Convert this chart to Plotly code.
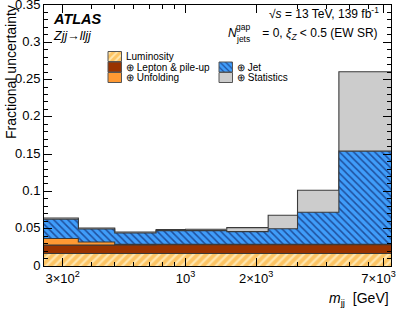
import plotly.graph_objects as go
import math

# ---------------- data ----------------
edges = [250, 350, 500, 750, 1000, 1500, 2250, 3000, 4500, 7500]
# cumulative (quadrature-summed) fractional uncertainties per bin
lumi     = [0.0167, 0.0167, 0.0167, 0.0167, 0.0167, 0.0167, 0.0167, 0.0167, 0.0167]
lepton   = [0.0280, 0.0280, 0.0283, 0.0285, 0.0285, 0.0285, 0.0285, 0.0285, 0.0285]
unfold   = [0.0368, 0.0322, 0.0290, 0.0290, 0.0290, 0.0290, 0.0290, 0.0290, 0.0290]
jet      = [0.0627, 0.0497, 0.0443, 0.0475, 0.0475, 0.0461, 0.0500, 0.0720, 0.1540]
total    = [0.0644, 0.0510, 0.0456, 0.0489, 0.0493, 0.0515, 0.0680, 0.1016, 0.2604]

xtick_vals = [300, 1000, 2000, 7000]
xtick_text = ["3×10<sup>2</sup>", "10<sup>3</sup>", "2×10<sup>3</sup>", "7×10<sup>3</sup>\u00a0\u00a0\u00a0"]
xminor_vals = [300, 400, 500, 600, 700, 800, 900, 2000, 3000, 4000, 5000, 6000, 7000]
ytick_vals = [0, 0.05, 0.1, 0.15, 0.2, 0.25, 0.3, 0.35]
ytick_text = ["0", "0.05", "0.1", "0.15", "0.2", "0.25", "0.3", "0.35"]

# ---------------- styles ----------------
FONT = "Liberation Sans, Arial, Helvetica, sans-serif"
EDGE = "#3a3a3a"
C_STAT = "#cccccc"
C_JET_BG, C_JET_FG = "#3f9dfa", "#1f4f9c"
C_UNF = "#ff9933"
C_LEP = "#993300"
C_LUM_BG, C_LUM_FG = "#fdc463", "#ffe6ad"

W, H = 399, 309
ML, MR, MT, MB = 44, 8, 5, 43
PW, PH = W - ML - MR, H - MT - MB


def px(x):
    return (x - ML) / PW


def py(y):
    return (H - MB - y) / PH


fig = go.Figure()


def step_trace(vals, fill, pattern=None, name=""):
    ys = list(vals) + [vals[-1]]
    kw = dict(x=edges, y=ys, mode="lines", line=dict(shape="hv", color=EDGE, width=1.1),
              fill="tozeroy", fillcolor=fill, name=name, showlegend=False, hoverinfo="skip")
    if pattern is not None:
        kw["fillpattern"] = pattern
    fig.add_trace(go.Scatter(**kw))


step_trace(total, C_STAT, name="Statistics")
step_trace(jet, C_JET_BG, dict(shape="\\", bgcolor=C_JET_BG, fgcolor=C_JET_FG, size=5, solidity=0.3, fillmode="replace"), name="Jet")
step_trace(unfold, C_UNF, name="Unfolding")
step_trace(lepton, C_LEP, name="Lepton & pile-up")
step_trace(lumi, C_LUM_BG, dict(shape="/", bgcolor=C_LUM_BG, fgcolor=C_LUM_FG, size=6, solidity=0.4, fillmode="replace"), name="Luminosity")

# ---------------- hand-made legend (compact rows like the original) ----------------
legend_items = [
    ("Luminosity", 108, 0, C_LUM_BG, dict(shape="/", bgcolor=C_LUM_BG, fgcolor=C_LUM_FG, size=5, solidity=0.4, fillmode="replace")),
    ("⊕ Lepton & pile-up", 108, 1, C_LEP, None),
    ("⊕ Unfolding", 108, 2, C_UNF, None),
    ("⊕ Jet", 219, 1, C_JET_BG, dict(shape="\\", bgcolor=C_JET_BG, fgcolor=C_JET_FG, size=4, solidity=0.3, fillmode="replace")),
    ("⊕ Statistics", 219, 2, C_STAT, None),
]
row_top = [51.5, 62.0, 72.5]
row_h = 10.0
box_w = 13.5
for label, bx, row, fill, pat in legend_items:
    y0 = row_top[row]
    y1 = y0 + row_h
    xs = [px(bx), px(bx + box_w), px(bx + box_w), px(bx), px(bx)]
    ys = [py(y1), py(y1), py(y0), py(y0), py(y1)]
    kw = dict(x=xs, y=ys, xaxis="x2", yaxis="y2", mode="lines", fill="toself",
              fillcolor=fill, line=dict(color="#555555", width=1), showlegend=False, hoverinfo="skip")
    if pat is not None:
        kw["fillpattern"] = pat
    fig.add_trace(go.Scatter(**kw))
    fig.add_annotation(text=label, xref="paper", yref="paper", x=px(bx + box_w + 2.5), y=py((y0 + y1) / 2),
                       xanchor="left", yanchor="middle", showarrow=False,
                       font=dict(family=FONT, size=10, color="black"))

# ---------------- text labels ----------------
def ann(text, x, y, xanchor="left", size=12, angle=0, yanchor="middle"):
    fig.add_annotation(text=text, xref="paper", yref="paper", x=px(x), y=py(y),
                       xanchor=xanchor, yanchor=yanchor, showarrow=False, textangle=angle,
                       font=dict(family=FONT, size=size, color="black"))

ann("<b><i>ATLAS</i></b>", 51, 19, size=14.5)
ann("<i>Zjj</i>→<i>lljj</i>", 51, 36, size=12.5)
ann("√<i>s</i> = 13 TeV, 139 fb<sup>-1</sup>", 381, 13, xanchor="right", size=12)
ann(" = 0, <i>ξ</i><sub><i>Z</i></sub> < 0.5 (EW SR)", 380, 34, xanchor="right", size=12)
ann("<i>N</i>", 226, 33, size=12)
ann("jets", 233.5, 39, size=8.5)
ann("gap", 233.5, 27, size=8.5)
ann("Fractional uncertainty", 11, 3, size=14, angle=-90, xanchor="center", yanchor="top")
ann("<i>m</i><sub>jj</sub>  [GeV]", 391, 299, xanchor="right", size=14)

# ---------------- axes ----------------
fig.update_layout(
    width=W, height=H,
    margin=dict(l=ML, r=MR, t=MT, b=MB, pad=0, autoexpand=False),
    paper_bgcolor="white", plot_bgcolor="white",
    font=dict(family=FONT, size=13, color="black"),
    showlegend=False,
    xaxis=dict(type="log", range=[math.log10(edges[0]), math.log10(edges[-1])],
               automargin=False,
               showline=True, linecolor="black", linewidth=1, mirror="ticks",
               ticks="inside", ticklen=8, tickcolor="black", showgrid=False, zeroline=False,
               tickmode="array", tickvals=xtick_vals, ticktext=xtick_text,
               tickfont=dict(family=FONT, size=13), ticklabeloverflow="allow",
               minor=dict(ticks="inside", ticklen=4, tickcolor="black", tickmode="array",
                          tickvals=xminor_vals, showgrid=False)),
    yaxis=dict(range=[0, 0.35], automargin=False,
               showline=True, linecolor="black", linewidth=1, mirror="ticks",
               ticks="inside", ticklen=8, tickcolor="black", showgrid=False, zeroline=False,
               tickmode="array", tickvals=ytick_vals, ticktext=ytick_text,
               tickfont=dict(family=FONT, size=13), ticklabeloverflow="allow",
               ticklabelshift=-1,
               minor=dict(ticks="inside", ticklen=4, tickcolor="black", dtick=0.01, showgrid=False)),
    xaxis2=dict(overlaying="x", anchor="y2", range=[0, 1], visible=False, fixedrange=True, automargin=False),
    yaxis2=dict(overlaying="y", anchor="x2", range=[0, 1], visible=False, fixedrange=True, automargin=False),
)

fig.write_html("out.html", config={"displayModeBar": False},
               post_script="document.body.style.margin='0';document.body.style.padding='0';")
